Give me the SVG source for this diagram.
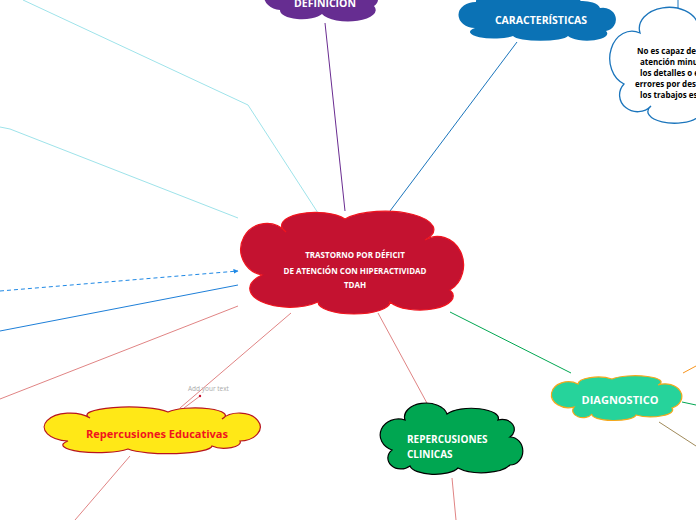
<svg xmlns="http://www.w3.org/2000/svg" width="696" height="520" viewBox="0 0 696 520">
<defs>
<marker id="arr" viewBox="0 0 10 10" refX="9" refY="5" markerWidth="5" markerHeight="5" orient="auto"><path d="M0,0 L10,5 L0,10 Z" fill="#1E88E5"/></marker>
</defs>
<style>
.t{font-family:"Open Sans","Noto Sans",sans-serif;font-weight:bold;}
.w{fill:#fff;}
.c{text-anchor:middle;}
.ln{fill:none;stroke-width:1;}
</style>
<rect width="696" height="520" fill="#fff"/>
<g id="connectors">
<polyline class="ln" points="23,0 248,105 318,213" stroke="#9EE3EA"/>
<polyline class="ln" points="0,127 10,129 238,218" stroke="#9EE3EA"/>
<line class="ln" x1="325" y1="23" x2="345" y2="211" stroke="#6A2C91"/>
<line class="ln" x1="517" y1="42" x2="390" y2="211" stroke="#1B75BC"/>
<line class="ln" x1="678" y1="0" x2="678" y2="10" stroke="#1B75BC"/>
<line class="ln" x1="0" y1="291" x2="238" y2="271" stroke="#1E88E5" stroke-width="1.2" stroke-dasharray="4,3" marker-end="url(#arr)"/>
<line class="ln" x1="0" y1="331" x2="238" y2="285" stroke="#1E7FD8" stroke-width="1.2"/>
<line class="ln" x1="0" y1="399" x2="238" y2="306" stroke="#E08484"/>
<line class="ln" x1="291" y1="313" x2="180" y2="408" stroke="#E08484"/>
<line class="ln" x1="200" y1="396" x2="184" y2="408" stroke="#E08484"/>
<circle cx="200" cy="396" r="1.2" fill="#C8102E"/>
<line class="ln" x1="130" y1="456" x2="75" y2="520" stroke="#E08484"/>
<line class="ln" x1="378" y1="313" x2="428" y2="405" stroke="#E08484"/>
<line class="ln" x1="452" y1="478" x2="456" y2="520" stroke="#E08484"/>
<line class="ln" x1="450" y1="312" x2="571" y2="373" stroke="#00A651" stroke-width="1.5"/>
<line class="ln" x1="683" y1="373" x2="696" y2="366" stroke="#F7941D" stroke-width="1.5"/>
<line class="ln" x1="682" y1="402" x2="696" y2="405" stroke="#00A651" stroke-width="1.5"/>
<line class="ln" x1="659" y1="422" x2="696" y2="446" stroke="#A08A5A" stroke-width="1.5"/>
</g>
<g id="n-definicion">
<path d="M283,-18 A22,12 0 0 1 326,-24 A25,12 0 0 1 370,-10 A10,9 0 0 1 374,6 A24,10 0 0 1 322,14 A22,9 0 0 1 280,10 A10,8 0 0 1 283,-18 Z" fill="#662D91"/>
<text class="t w c" x="325" y="7" font-size="10.5">DEFINICION</text>
</g>
<g id="n-caracteristicas">
<path d="M476,2 A24,8 0 0 1 520,-3 A30,8 0 0 1 580,1 A18,9 0 0 1 600,8 A12,11 0 0 1 606,31 A20,7 0 0 1 568,36 A28,6 0 0 1 513,36 A22,6 0 0 1 475,28 A17,13 0 0 1 476,2 Z" fill="#0B72B5"/>
<text class="t w c" x="541" y="24" font-size="10.5">CARACTERÍSTICAS</text>
</g>
<g id="n-nota">
<path d="M640,33 A28,20 0 0 1 698,24 L720,24 L720,125 L698,117 A25,11 0 0 1 651,106 A15,14 0 0 1 624,84 A22,27 0 1 1 640,33 Z" fill="#fff" stroke="#1B75BC" stroke-width="1.3"/>
<g class="t" font-size="8" fill="#000">
<text x="637" y="54">No es capaz de</text>
<text x="640" y="65">atención minu</text>
<text x="640" y="76">los detalles o e</text>
<text x="635" y="87">errores por des</text>
<text x="640" y="98">los trabajos es</text>
</g>
</g>
<g id="n-central">
<path d="M286,232 A31,12 0 0 1 345,219 A40,15 0 0 1 425,240 A22,24 0 0 1 450,290 A33,14 0 0 1 390,302 A36,12 0 0 1 318,302 A30,14 0 0 1 262,275 A26,26 0 1 1 286,232 Z" fill="#C41230" stroke="#F0141E" stroke-width="1.2"/>
<g class="t w c" font-size="8">
<text x="355" y="258">TRASTORNO POR DÉFICIT</text>
<text x="355" y="274">DE ATENCIÓN CON HIPERACTIVIDAD</text>
<text x="355" y="288">TDAH</text>
</g>
</g>
<g id="n-diagnostico">
<path d="M578,384 A20,7 0 0 1 612,379 A25,6 0 0 1 658,385 A12,9 0 0 1 672,408 A22,7 0 0 1 636,415 A22,6 0 0 1 592,414 A10,7 0 0 1 574,407 A17,13 0 1 1 578,384 Z" fill="#26D39B" stroke="#F5A81C" stroke-width="1.2"/>
<text class="t w c" x="620" y="404" font-size="11">DIAGNOSTICO</text>
</g>
<g id="n-clinicas">
<path d="M405,420 A20,13 0 0 1 447,414 A27,10 0 0 1 498,420 A12,10 0 0 1 510,437 A11,12 0 0 1 510,465 A30,12 0 0 1 458,468 A25,10 0 0 1 410,466 A12,10 0 0 1 392,450 A16,14 0 0 1 405,420 Z" fill="#00A651" stroke="#000" stroke-width="1.2"/>
<g class="t w" font-size="10">
<text x="407" y="443">REPERCUSIONES</text>
<text x="407" y="458">CLINICAS</text>
</g>
</g>
<g id="n-educativas">
<path d="M90,418 A42,8 0 0 1 168,412 A28,7 0 0 1 222,419 A21,14 0 1 1 240,441 A16,6 0 0 1 212,446 A44,8 0 0 1 128,449 A32,7 0 0 1 68,441 A26,14 0 1 1 90,418 Z" fill="#FFE817" stroke="#B8141E" stroke-width="1.2"/>
<text class="t c" x="157" y="438" font-size="11" fill="#F0141E">Repercusiones Educativas</text>
</g>
<g id="n-add">
<text x="188" y="391" font-family="'Open Sans','Noto Sans',sans-serif" font-size="6.5" fill="#AAAAAA">Add your text</text>
</g>
</svg>
